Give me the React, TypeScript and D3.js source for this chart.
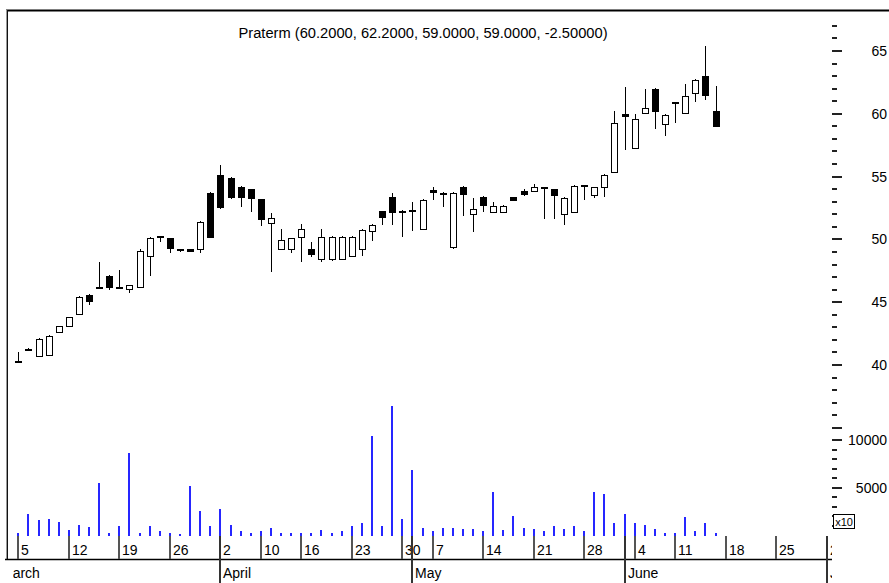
import * as d3 from "d3";

// daily OHLC, one entry per trading day (index 0 = 5 March)
const opens = [
  40.3, 41.3, 40.7, 40.8, 42.6, 43.1, 44.1, 45.6, 46.2, 47.1,
  46.25, 46.05, 46.2, 48.65, 50.25, 50.1, 49.2, 49.2, 49.2, 53.7,
  55.1, 54.9, 54.2, 54.0, 53.2, 51.3, 49.2, 49.2, 50.2, 49.2,
  48.4, 48.45, 48.45, 48.65, 49.2, 50.7, 52.25, 53.4, 52.3, 52.35,
  50.85, 53.95, 53.7, 49.4, 54.2, 52.0, 53.4, 52.15, 52.15, 53.35,
  53.85, 53.85, 54.15, 54.0, 52.0, 52.15, 54.3, 53.55, 54.15, 55.35,
  60.0, 57.3, 60.1, 62.0, 59.2, 60.9, 60.1, 61.65, 63.0, 60.2,
];
const highs = [
  41.0, 41.35, 42.15, 42.35, 43.1, 43.85, 45.5, 45.65, 48.2, 47.15,
  47.6, 46.4, 49.2, 50.2, 50.3, 50.15, 49.25, 49.25, 51.45, 53.75,
  55.9, 54.95, 54.25, 54.05, 53.25, 52.1, 50.8, 50.15, 51.2, 49.8,
  50.8, 50.25, 50.25, 50.25, 50.8, 51.2, 52.3, 53.7, 52.35, 52.95,
  53.2, 54.15, 53.75, 53.75, 54.25, 53.3, 53.45, 53.0, 52.7, 53.4,
  54.0, 54.45, 54.2, 54.05, 53.35, 54.3, 54.35, 54.2, 55.2, 60.2,
  62.15, 60.0, 62.0, 62.05, 59.95, 60.95, 62.35, 62.75, 65.4, 62.2,
];
const lows = [
  40.2, 41.1, 40.7, 40.7, 42.55, 43.05, 44.05, 44.8, 46.1, 46.0,
  46.15, 45.7, 46.15, 47.05, 49.8, 48.9, 49.0, 49.0, 48.9, 50.1,
  52.4, 53.2, 52.6, 52.15, 51.1, 47.4, 49.15, 48.9, 48.2, 48.6,
  48.2, 48.3, 48.4, 48.6, 48.65, 49.9, 51.15, 51.15, 50.2, 50.7,
  50.75, 53.15, 52.6, 49.2, 51.9, 50.6, 52.15, 52.1, 52.1, 53.1,
  53.45, 53.8, 51.6, 51.6, 51.15, 52.1, 53.15, 53.3, 53.35, 55.3,
  57.1, 57.25, 60.0, 58.8, 58.25, 59.3, 60.05, 60.95, 61.1, 59.0,
];
const closes = [
  40.2, 41.2, 42.1, 42.3, 43.1, 43.85, 45.45, 45.1, 46.1, 46.2,
  46.2, 46.35, 49.1, 50.1, 50.2, 49.3, 49.15, 49.05, 51.4, 50.2,
  52.6, 53.35, 53.4, 53.3, 51.6, 51.7, 49.95, 50.1, 50.8, 48.8,
  50.2, 50.2, 50.2, 50.2, 50.75, 51.15, 51.75, 52.15, 52.25, 52.3,
  53.15, 53.75, 53.65, 53.7, 53.65, 52.4, 52.75, 52.65, 52.65, 53.15,
  53.65, 54.15, 54.1, 53.5, 53.3, 54.25, 54.25, 54.15, 55.15, 59.25,
  59.8, 59.6, 60.45, 60.25, 59.9, 60.85, 61.4, 62.7, 61.5, 59.0,
];
const volumes = [
  250, 2260, 1640, 1780, 1430, 590, 1110, 840, 5540, 240,
  980, 8600, 240, 980, 450, 240, 140, 5190, 2580, 980,
  2750, 1110, 450, 240, 450, 800, 240, 240, 240, 240,
  590, 240, 450, 980, 1290, 10420, 980, 13550, 1780, 6860,
  800, 450, 800, 800, 630, 630, 450, 4530, 590, 2090,
  800, 630, 450, 980, 630, 980, 450, 4530, 4360, 1290,
  2260, 1290, 1110, 630, 240, 310, 1950, 450, 1290, 240,
];

const dayLabels = ["5", "12", "19", "26", "2", "10", "16", "23", "30", "7", "14", "21", "28", "4", "11", "18", "25", "2"];
const dayIndex = [0, 5, 10, 15, 20, 24, 28, 33, 38, 41, 46, 51, 56, 61, 65, 70, 75, 80];
const monthLabels = ["March", "April", "May", "June", "July"];
const monthIndex = [-2, 20, 39, 60, 80];

const priceMajor = [40, 45, 50, 55, 60, 65];
const volumeMajor = [5000, 10000];

const title = "Praterm (60.2000, 62.2000, 59.0000, 59.0000, -2.50000)";

const W = 889;
const H = 583;
const FONT = "'Liberation Sans', Arial, sans-serif";

export default function App() {
  const x = d3.scaleLinear().domain([0, 80]).range([18.3, 826.7]);
  const y = d3.scaleLinear().domain([40, 65]).range([365, 51]);
  const yv = d3.scaleLinear().domain([0, 10000]).range([535.5, 440]);

  const axisX = 832;
  const priceTicks = d3.range(35, 68, 1);
  const volTicks = d3.range(1000, 10001, 1000);

  const px = (i: number) => Math.round(x(i));

  return (
    <div style={{ position: "absolute", left: 0, top: 0 }}>
      <svg width={W} height={H} style={{ display: "block", background: "#fff" }} fontFamily={FONT}>
        <defs>
          <clipPath id="dateClip">
            <rect x={13} y={530} width={axisX - 13} height={60} />
          </clipPath>
        </defs>

        {/* frame */}
        <line x1={6} x2={W} y1={10.5} y2={10.5} stroke="#000" strokeWidth={2} />
        <line x1={6.5} x2={6.5} y1={10} y2={559} stroke="#999" strokeWidth={1} shapeRendering="crispEdges" />
        <line x1={7.5} x2={7.5} y1={10} y2={559} stroke="#111" strokeWidth={1} shapeRendering="crispEdges" />

        <text x={423} y={38} textAnchor="middle" fontSize={14.7} fill="#000">{title}</text>

        {/* volume */}
        <g shapeRendering="crispEdges">
          {volumes.map((v, i) => (
            <rect key={i} x={px(i) - 1} y={yv(v)} width={2} height={yv(0) - yv(v)} fill="#2626ff" />
          ))}
        </g>

        {/* candles */}
        <g shapeRendering="crispEdges">
          {opens.map((o, i) => {
            const c = closes[i];
            const cx = px(i) + 0.5;
            const top = Math.round(y(Math.max(o, c)));
            const bot = Math.round(y(Math.min(o, c)));
            const down = c < o;
            return (
              <g key={i}>
                <line x1={cx} x2={cx} y1={Math.round(y(highs[i]))} y2={Math.round(y(lows[i]))} stroke="#000" strokeWidth={1} />
                <rect
                  x={px(i) - 3 + 0.5}
                  y={top + 0.5}
                  width={6}
                  height={Math.max(1, bot - top)}
                  fill={down ? "#000" : "#fff"}
                  stroke="#000"
                  strokeWidth={1}
                />
              </g>
            );
          })}
        </g>

        {/* right axis */}
        <g shapeRendering="crispEdges" stroke="#222" strokeWidth={2}>
          {priceTicks.map((p) => (
            <line key={"p" + p} x1={axisX} x2={axisX + (p % 5 === 0 ? 10 : 5)} y1={Math.round(y(p))} y2={Math.round(y(p))} />
          ))}
          {volTicks.map((v) => (
            <line key={"v" + v} x1={axisX} x2={axisX + (v % 5000 === 0 ? 10 : 5)} y1={Math.round(yv(v))} y2={Math.round(yv(v))} />
          ))}
        </g>
        {priceMajor.map((p) => (
          <text key={p} x={887} y={y(p)} dy="0.35em" textAnchor="end" fontSize={14} fill="#000">{p}</text>
        ))}
        {volumeMajor.map((v) => (
          <text key={v} x={887} y={yv(v)} dy="0.35em" textAnchor="end" fontSize={14} fill="#000">{v}</text>
        ))}
        <rect x={833.5} y={514.5} width={21} height={14} fill="#fff" stroke="#000" strokeWidth={1} shapeRendering="crispEdges" />
        <text x={844} y={525.5} textAnchor="middle" fontSize={11} fill="#000">x10</text>

        {/* date axis */}
        <line x1={5} x2={axisX} y1={559.5} y2={559.5} stroke="#000" strokeWidth={1.5} />
        <g clipPath="url(#dateClip)">
          {dayIndex.map((d, k) => (
            <g key={k}>
              <line x1={px(d)} x2={px(d)} y1={536} y2={559} stroke="#555" strokeWidth={2} shapeRendering="crispEdges" />
              <text x={px(d) + 3} y={555} fontSize={14} fill="#000">{dayLabels[k]}</text>
            </g>
          ))}
          {monthIndex.map((m, k) => (
            <g key={"m" + k}>
              <line x1={px(m)} x2={px(m)} y1={536} y2={583} stroke="#333" strokeWidth={1.5} shapeRendering="crispEdges" />
              <text x={px(m) + 3} y={578} fontSize={14} fill="#000">{monthLabels[k]}</text>
            </g>
          ))}
        </g>
      </svg>
    </div>
  );
}
